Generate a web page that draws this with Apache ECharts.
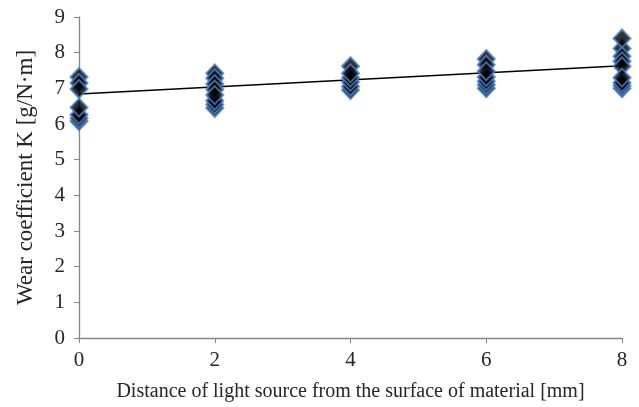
<!DOCTYPE html>
<html><head><meta charset="utf-8">
<script src="https://cdn.jsdelivr.net/npm/echarts@6/dist/echarts.min.js"></script>
<style>html,body{margin:0;padding:0;background:#fff}#c{width:639px;height:407px}</style>
</head><body><div id="c"></div>
<script>
// Distances (mm) and measured wear coefficients, in drawing order
const distances = [0, 2, 4, 6, 8];
const k0 = [7.32, 6.08, 7.15, 6.16, 6.98, 6.26, 6.46];
const k2 = [7.42, 6.45, 7.28, 6.55, 7.12, 6.65, 6.97, 6.81];
const k4 = [7.62, 6.95, 7.05, 7.18, 7.3, 7.42];
const k6 = [7.82, 7.0, 7.66, 7.1, 7.2, 7.32, 7.48];
const k8 = [8.12, 7.0, 7.9, 7.08, 7.76, 7.16, 7.62, 7.3, 8.4];
const trendX = [0, 8];
const trendY = [6.84, 7.63];
const yTicks = [0,1,2,3,4,5,6,7,8,9];

const groups = [k0, k2, k4, k6, k8];
const pts = [];
groups.forEach((g, i) => g.forEach(v => pts.push([distances[i], v])));

const font = '"Liberation Serif", "Times New Roman", serif';
const chart = echarts.init(document.getElementById('c'));
chart.setOption({
  animation: false,
  grid: {left: 79, right: 17, top: 17, bottom: 69},
  xAxis: {
    type: 'value', min: 0, max: 8, interval: 2,
    name: 'Distance of light source from the surface of material [mm]',
    nameLocation: 'middle', nameGap: 44,
    nameTextStyle: {fontFamily: font, fontSize: 20, color: '#262626'},
    axisLine: {lineStyle: {color: '#868686', width: 1.3}},
    axisTick: {show: true, length: 5, lineStyle: {color: '#868686'}},
    axisLabel: {fontFamily: font, fontSize: 21, color: '#262626', margin: 12},
    splitLine: {show: false}
  },
  yAxis: {
    type: 'value', min: 0, max: 9, interval: 1,
    name: 'Wear coefficient K [g/N·m]',
    nameLocation: 'middle', nameGap: 42, nameRotate: 90,
    nameTextStyle: {fontFamily: font, fontSize: 23, color: '#262626'},
    axisLine: {show: true, lineStyle: {color: '#868686', width: 1.3}},
    axisTick: {show: true, length: 5, lineStyle: {color: '#868686'}},
    axisLabel: {fontFamily: font, fontSize: 21, color: '#262626', margin: 14,
      formatter: v => yTicks.includes(v) ? String(v) : ''},
    splitLine: {show: false}
  },
  series: [
    {
      type: 'line', data: trendX.map((x, i) => [x, trendY[i]]),
      symbol: 'none', lineStyle: {color: '#000', width: 1.5}, z: 2
    },
    {
      type: 'scatter', data: pts, symbol: 'diamond', symbolSize: [17, 18],
      itemStyle: {color: '#000', borderColor: '#4A7EC4', borderWidth: 2},
      z: 3
    }
  ]
});
</script></body></html>
